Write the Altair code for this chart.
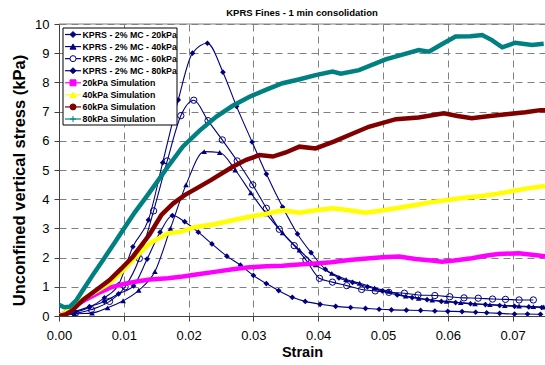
import altair as alt
import pandas as pd

# ---------------- data ----------------
names = ["KPRS - 2% MC - 20kPa", "KPRS - 2% MC - 40kPa", "KPRS - 2% MC - 60kPa",
         "KPRS - 2% MC - 80kPa", "20kPa Simulation", "40kPa Simulation",
         "60kPa Simulation", "80kPa Simulation"]
colors = ["#000080", "#000080", "#000080", "#000080",
          "#FF00FF", "#FFFF00", "#800000", "#008080"]
fills = ["#000080", "#000080", "#FFFFFF", "#000080",
         "#FF00FF", "#FFFF00", "#800000", "#008080"]
legend_markers = ["diamond", "triangle-up", "circle", "diamond",
                  "square", "triangle-up", "circle", "M-1,0L1,0M0,-1L0,1"]

exp20_x = [0.0, 0.0024, 0.0047, 0.007, 0.0092, 0.0115, 0.0136, 0.0156, 0.0175, 0.0194,
           0.0215, 0.0236, 0.0259, 0.028, 0.030, 0.032, 0.0339, 0.036, 0.038, 0.0403,
           0.0427, 0.045, 0.0473, 0.0494, 0.0513, 0.0536, 0.0558, 0.058, 0.060, 0.0622,
           0.0643, 0.066, 0.068, 0.0703, 0.0723, 0.0743]
exp20_y = [0.02, 0.15, 0.32, 0.5, 0.76, 1.03, 1.95, 2.87, 3.44, 3.23,
           2.87, 2.47, 2.05, 1.74, 1.39, 1.11, 0.87, 0.64, 0.5, 0.4,
           0.33, 0.29, 0.26, 0.23, 0.21, 0.2, 0.19, 0.17, 0.16, 0.15,
           0.13, 0.11, 0.09, 0.07, 0.07, 0.06]

exp40_x = [0.0, 0.0024, 0.0051, 0.0075, 0.0099, 0.0123, 0.0148, 0.0172, 0.0196, 0.0224,
           0.0248, 0.0272, 0.0296, 0.032, 0.0345, 0.0371, 0.0396, 0.0421, 0.0443, 0.0464,
           0.0487, 0.0509, 0.0535, 0.0555, 0.0576, 0.0598, 0.062, 0.0642, 0.0665, 0.0688,
           0.071, 0.0732, 0.0748]
exp40_y = [0.0, 0.07, 0.1, 0.28, 0.52, 0.88, 1.52, 3.0, 4.49, 5.63,
           5.6, 5.0, 4.22, 3.5, 2.85, 2.26, 1.75, 1.46, 1.25, 1.12,
           0.96, 0.85, 0.68, 0.61, 0.55, 0.5, 0.46, 0.42, 0.39, 0.36,
           0.34, 0.32, 0.31]

exp60_x = [0.0, 0.0025, 0.005, 0.0078, 0.0102, 0.0124, 0.0146, 0.0167, 0.0188, 0.0208,
           0.023, 0.0252, 0.0275, 0.0299, 0.032, 0.034, 0.0363, 0.0381, 0.0402, 0.0422,
           0.0444, 0.0467, 0.0488, 0.0509, 0.0533, 0.0554, 0.058, 0.0603, 0.0625, 0.0647,
           0.0669, 0.0689, 0.071, 0.0732]
exp60_y = [0.0, 0.08, 0.22, 0.5, 1.0, 1.97, 3.6, 5.31, 6.86, 7.39,
           6.69, 6.03, 5.31, 4.49, 3.69, 2.97, 2.41, 1.92, 1.29, 1.16,
           1.04, 0.91, 0.86, 0.81, 0.78, 0.72, 0.70, 0.66, 0.62, 0.61,
           0.58, 0.57, 0.55, 0.55]

exp80_x = [0.0, 0.0024, 0.0047, 0.007, 0.0092, 0.0114, 0.0138, 0.016, 0.0184, 0.0206,
           0.0229, 0.0253, 0.0274, 0.0298, 0.032, 0.0345, 0.0368, 0.0389, 0.0411, 0.0432,
           0.0453, 0.0476, 0.0499, 0.0522, 0.0545, 0.0568, 0.059, 0.0612, 0.0635, 0.0658,
           0.068, 0.0703, 0.0725, 0.0745]
exp80_y = [0.0, 0.12, 0.3, 0.62, 1.08, 2.37, 3.29, 5.25, 7.4, 9.0,
           9.34, 8.35, 7.18, 5.96, 4.86, 3.73, 2.81, 2.17, 1.6, 1.3,
           1.15, 1.0, 0.86, 0.72, 0.63, 0.56, 0.5, 0.46, 0.42, 0.39,
           0.36, 0.33, 0.31, 0.29]

sim20_x = [0.0, 0.001, 0.002, 0.004, 0.006, 0.008, 0.010, 0.012, 0.014, 0.0168,
           0.0191, 0.0217, 0.0243, 0.0268, 0.0294, 0.032, 0.0345, 0.037, 0.0396, 0.042,
           0.0448, 0.0475, 0.0499, 0.0525, 0.055, 0.0575, 0.0591, 0.061, 0.0637, 0.0658,
           0.0678, 0.0709, 0.073, 0.075]
sim20_y = [0.0, 0.12, 0.3, 0.55, 0.78, 0.98, 1.1, 1.18, 1.25, 1.29,
           1.35, 1.44, 1.52, 1.6, 1.67, 1.7, 1.72, 1.76, 1.8, 1.84,
           1.92, 1.97, 2.01, 2.04, 1.95, 1.9, 1.86, 1.9, 1.98, 2.06,
           2.12, 2.15, 2.1, 2.05]

sim40_x = [0.0, 0.001, 0.002, 0.004, 0.006, 0.0078, 0.0096, 0.0114, 0.014, 0.0168,
           0.0189, 0.0209, 0.024, 0.0268, 0.0294, 0.032, 0.0345, 0.0371, 0.0396, 0.0422,
           0.0448, 0.0473, 0.05, 0.0525, 0.055, 0.0575, 0.06, 0.0625, 0.065, 0.0675,
           0.07, 0.0725, 0.075]
sim40_y = [0.0, 0.12, 0.3, 0.62, 0.88, 1.12, 1.5, 1.92, 2.49, 2.83,
           2.89, 3.04, 3.14, 3.28, 3.4, 3.5, 3.62, 3.54, 3.62, 3.69,
           3.62, 3.54, 3.62, 3.71, 3.8, 3.9, 3.97, 4.05, 4.1, 4.18,
           4.28, 4.38, 4.45]

sim60_x = [0.0, 0.001, 0.002, 0.0037, 0.0058, 0.0078, 0.0096, 0.0114, 0.014, 0.0158,
           0.0176, 0.0194, 0.0217, 0.0235, 0.0268, 0.0289, 0.0309, 0.033, 0.035, 0.0371,
           0.0396, 0.0425, 0.0448, 0.0478, 0.052, 0.0555, 0.0594, 0.0615, 0.0637, 0.0665,
           0.0694, 0.072, 0.0743, 0.075]
sim60_y = [0.0, 0.05, 0.18, 0.55, 0.9, 1.23, 1.62, 2.03, 2.8, 3.46,
           3.85, 4.14, 4.43, 4.66, 5.11, 5.35, 5.51, 5.46, 5.6, 5.8,
           5.74, 5.98, 6.2, 6.48, 6.74, 6.8, 6.94, 6.85, 6.77, 6.85,
           6.92, 6.98, 7.05, 7.05]

sim80_x = [0.0, 0.0008, 0.0017, 0.0027, 0.0037, 0.0052, 0.0068, 0.0084, 0.0099, 0.0117,
           0.0135, 0.015, 0.0168, 0.0191, 0.0217, 0.0243, 0.0268, 0.0294, 0.032, 0.0345,
           0.037, 0.0396, 0.0422, 0.0435, 0.0463, 0.0504, 0.053, 0.0555, 0.0571, 0.059,
           0.0612, 0.0635, 0.0653, 0.0668, 0.0684, 0.0704, 0.073, 0.0748]
sim80_y = [0.38, 0.3, 0.32, 0.55, 0.89, 1.4, 1.92, 2.45, 2.95, 3.55,
           4.09, 4.55, 5.11, 5.8, 6.35, 6.83, 7.2, 7.51, 7.75, 7.97,
           8.1, 8.25, 8.37, 8.3, 8.42, 8.79, 8.95, 9.11, 9.05, 9.3,
           9.57, 9.58, 9.62, 9.45, 9.2, 9.36, 9.28, 9.32]

x_ticks = [0.0, 0.01, 0.02, 0.03, 0.04, 0.05, 0.06, 0.07]
y_ticks = [0, 1, 2, 3, 4, 5, 6, 7, 8, 9, 10]
y_top = [10]

series_xy = [(exp20_x, exp20_y), (exp40_x, exp40_y), (exp60_x, exp60_y), (exp80_x, exp80_y),
             (sim20_x, sim20_y), (sim40_x, sim40_y), (sim60_x, sim60_y), (sim80_x, sim80_y)]

rows = []
for name, (xs, ys) in zip(names, series_xy):
    for xv, yv in zip(xs, ys):
        rows.append({"series": name, "strain": xv, "stress": yv})
df = pd.DataFrame(rows)
legend_df = pd.DataFrame({"series": names})
top_df = pd.DataFrame({"stress": y_top})

FONT = "Liberation Sans"
NAVY = "#000080"
xscale = alt.Scale(domain=[0, 0.075], nice=False, zero=False)
yscale = alt.Scale(domain=[0, 10], nice=False)
cscale = alt.Scale(domain=names, range=colors)

xaxis = alt.Axis(title="Strain", values=x_ticks, format=".2f", labelFlush=False,
                 labelOverlap=False, titleY=36, titleBaseline="middle")
yaxis = alt.Axis(title="Unconfined vertical stress (kPa)", values=y_ticks, labelOverlap=False,
                 titleX=-40, titleY=156, titleBaseline="middle", titleAngle=-90)
X = alt.X("strain:Q", scale=xscale, axis=xaxis)
Y = alt.Y("stress:Q", scale=yscale, axis=yaxis)

base = alt.Chart(df)
exp_names = names[:4]
sim_names = names[4:]

top_border = alt.Chart(top_df).mark_rule(color="#808080", strokeWidth=1).encode(y=Y)

exp_lines = base.transform_filter(
    alt.FieldOneOfPredicate(field="series", oneOf=exp_names)
).mark_line(strokeWidth=1.1, interpolate="monotone", clip=True).encode(
    x=X, y=Y, color=alt.Color("series:N", scale=cscale, legend=None),
    detail="series:N"
)

sim_lines = base.transform_filter(
    alt.FieldOneOfPredicate(field="series", oneOf=sim_names)
).mark_line(strokeWidth=4.5, clip=True).encode(
    x=X, y=Y, color=alt.Color("series:N", scale=cscale, legend=None),
    detail="series:N"
)

diamonds = base.transform_filter(
    alt.FieldOneOfPredicate(field="series", oneOf=[names[0], names[3]])
).mark_point(shape="diamond", filled=True, size=32, color=NAVY, opacity=1, clip=True).encode(
    x=X, y=Y, detail="series:N")

triangles = base.transform_filter(alt.datum.series == names[1]).mark_point(
    shape="triangle-up", filled=True, size=32, color=NAVY, opacity=1, clip=True
).encode(x=X, y=Y)

circles = base.transform_filter(alt.datum.series == names[2]).mark_point(
    shape="circle", filled=False, size=40, color=NAVY, strokeWidth=1, opacity=1, clip=True
).encode(x=X, y=Y)

plot = alt.layer(exp_lines, diamonds, triangles, circles, sim_lines, top_border)

# ---------------- legend (drawn with its own point scale for the rows) ----------------
LY = alt.Y("series:N", scale=alt.Scale(type="point", domain=names, range=[10.5, 95], padding=0),
           axis=None)
leg_base = alt.Chart(legend_df)

leg_box = alt.Chart(top_df).mark_rect(fill="white", stroke="black", strokeWidth=1).encode(
    x=alt.value(4), x2=alt.value(118), y=alt.value(4), y2=alt.value(101))

leg_lines = leg_base.mark_rule(strokeWidth=1.2).encode(
    x=alt.value(6), x2=alt.value(22), y=LY,
    color=alt.Color("series:N", scale=cscale, legend=None))

leg_marks = leg_base.mark_point(size=36, strokeWidth=1, opacity=1).encode(
    x=alt.value(14), y=LY,
    shape=alt.Shape("series:N", scale=alt.Scale(domain=names, range=legend_markers), legend=None),
    fill=alt.Fill("series:N", scale=alt.Scale(domain=names, range=fills), legend=None),
    stroke=alt.Stroke("series:N", scale=alt.Scale(domain=names, range=colors), legend=None),
)

leg_text = leg_base.mark_text(align="left", baseline="middle", font=FONT, fontSize=8.8,
                              fontWeight="bold", color="black").encode(
    x=alt.value(23.5), y=LY, text="series:N")

legend = alt.layer(leg_box, leg_lines, leg_marks, leg_text)

chart = alt.layer(plot, legend).resolve_scale(y="independent").properties(
    width=486, height=292,
    title=alt.TitleParams("KPRS Fines - 1 min consolidation", font=FONT, fontSize=9.5,
                          fontWeight="bold", anchor="middle", offset=1, color="black"),
    autosize=alt.AutoSizeParams(type="none"),
    padding={"left": 59, "top": 24, "right": 0, "bottom": 49},
).configure_view(
    stroke=None
).configure_axis(
    labelFont=FONT, labelFontSize=13, labelColor="black",
    titleFont=FONT, titleFontWeight="bold", titleColor="black",
    grid=True, gridColor="#808080", gridDash=[7, 5], gridWidth=1,
    domainColor="#404040", domainWidth=1, tickColor="#404040", tickSize=5,
    labelPadding=5,
).configure_axisX(
    titleFontSize=14.5, labelPadding=8,
).configure_axisY(
    titleFontSize=16.5,
)

chart.save("out.html", embed_options={"renderer": "svg", "actions": False})
